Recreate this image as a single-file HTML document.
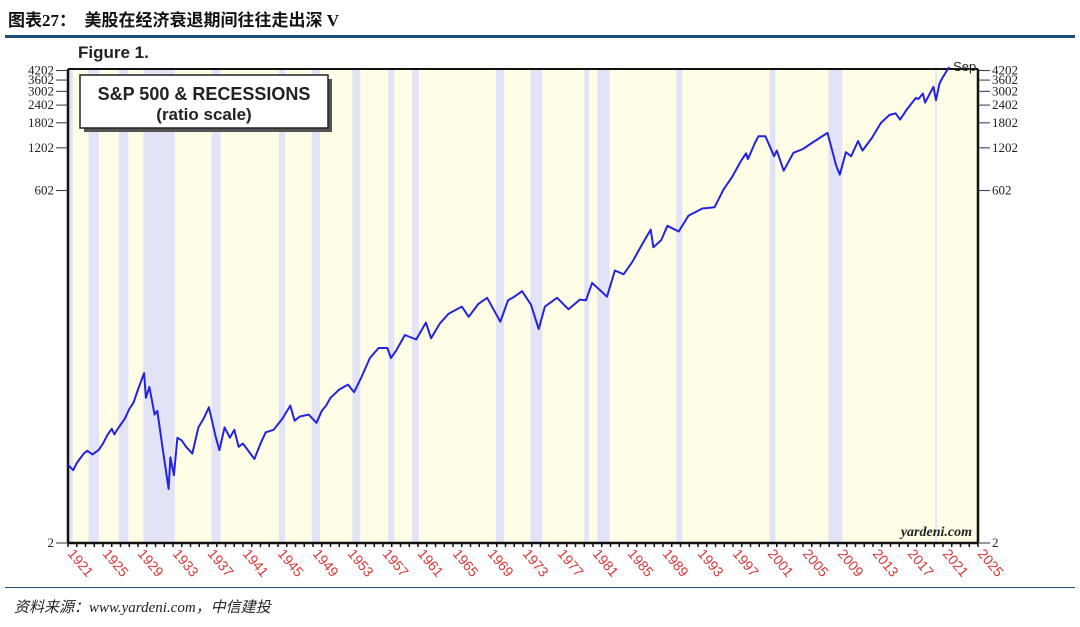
<!DOCTYPE html>
<html><head><meta charset="utf-8">
<style>
body{margin:0;background:#fff;width:1080px;height:627px;overflow:hidden;position:relative;font-family:"Liberation Sans","Noto Sans CJK SC",sans-serif}
#title{position:absolute;left:8px;top:6px;font-size:17px;font-weight:bold;color:#111;font-family:"Liberation Serif","Noto Sans CJK SC",sans-serif}
#topline{position:absolute;left:5px;top:35px;width:1070px;height:3px;background:#1f4e79}
#botline{position:absolute;left:5px;top:587px;width:1070px;height:1px;background:#1f4e79}
#source{position:absolute;left:14px;top:596px;font-size:15px;font-style:italic;color:#222;font-family:"Liberation Serif","Noto Sans CJK SC",serif}
svg{position:absolute;left:0;top:0}
</style></head><body>
<div id="title">图表27：&nbsp;&nbsp;美股在经济衰退期间往往走出深 V</div>
<div id="topline"></div>
<svg id="chart" width="1080" height="627"></svg>
<div id="botline"></div>
<div id="source">资料来源：www.yardeni.com，中信建投</div>
<script>
const recessions=[[1920.0,1921.55],[1923.35,1924.55],[1926.8,1927.9],[1929.6,1933.2],[1937.4,1938.45],[1945.1,1945.8],[1948.85,1949.8],[1953.5,1954.4],[1957.6,1958.3],[1960.3,1961.1],[1969.9,1970.85],[1973.85,1975.2],[1980.0,1980.55],[1981.5,1982.9],[1990.5,1991.2],[2001.2,2001.85],[2007.9,2009.5],[2020.1,2020.3]];
const years=[1921.0,1921.6,1922.0,1922.8,1923.2,1923.8,1924.5,1925.0,1925.5,1926.0,1926.3,1926.8,1927.5,1928.0,1928.5,1929.0,1929.7,1929.9,1930.3,1930.9,1931.2,1931.9,1932.5,1932.7,1933.1,1933.5,1934.0,1934.5,1935.2,1935.9,1936.5,1937.1,1937.9,1938.3,1938.9,1939.5,1940.0,1940.5,1941.0,1942.3,1943.0,1943.6,1944.5,1945.5,1946.4,1946.9,1947.5,1948.5,1949.4,1950.0,1950.5,1951.0,1952.0,1953.0,1953.7,1954.5,1955.5,1956.5,1957.5,1957.9,1958.5,1959.5,1960.8,1961.9,1962.5,1963.5,1964.5,1966.0,1966.8,1967.9,1968.9,1970.4,1971.3,1972.0,1972.9,1973.9,1974.8,1975.5,1976.9,1978.2,1979.5,1980.2,1980.9,1982.6,1983.5,1984.5,1985.5,1986.5,1987.6,1987.9,1988.8,1989.5,1990.8,1991.9,1993.5,1994.9,1995.9,1996.9,1997.9,1998.5,1998.7,1999.5,1999.9,2000.7,2001.7,2002.0,2002.8,2003.9,2005.0,2006.0,2007.8,2008.8,2009.2,2009.9,2010.5,2011.3,2011.8,2012.9,2013.9,2014.9,2015.6,2016.1,2016.9,2017.9,2018.2,2018.7,2018.95,2019.9,2020.2,2020.6,2020.9,2021.7];
const prices=[7.1,6.5,7.3,8.5,8.9,8.4,9.0,10.0,11.5,12.7,11.6,13,15,17.5,19.5,24,31.3,21,25,16,17,8.5,4.8,8,6,11,10.5,9.5,8.5,13,15,18,11,9,13,11,12.5,9.5,10,7.8,10,12,12.5,15,18.5,14.5,15.5,16,14,17,18.5,21,24,26,23,29,40,47,47,40,45,58,54,71,55,70,82,92,78,96,106,72,102,108,118,95,64,92,106,88,103,102,135,108,165,155,190,245,320,240,270,340,310,400,450,460,610,750,970,1100,1000,1300,1450,1450,1050,1150,830,1110,1180,1300,1530,900,780,1120,1050,1340,1150,1420,1800,2050,2100,1900,2250,2700,2650,2900,2500,3230,2600,3400,3700,4450];
const yTicks=[4202,3602,3002,2402,1802,1202,602,2];
const xLabels=[1921,1925,1929,1933,1937,1941,1945,1949,1953,1957,1961,1965,1969,1973,1977,1981,1985,1989,1993,1997,2001,2005,2009,2013,2017,2021,2025];

const NS="http://www.w3.org/2000/svg";
const svg=document.getElementById('chart');
const L=68,R=978,T=69,B=543;
const X=y=>L+(y-1921)*(R-L)/104;
const Y=v=>B-Math.log10(v/2)*142.2;
function mk(tag,attrs,parent){const e=document.createElementNS(NS,tag);for(const k in attrs)e.setAttribute(k,attrs[k]);(parent||svg).appendChild(e);return e;}

let bg=mk('rect',{x:L,y:T,width:R-L,height:B-T,fill:'#fffde6'});


recessions.forEach(r=>{
  const x0=Math.max(L,X(r[0])),x1=X(r[1]);
  const b=mk('rect',{x:x0,y:T,width:x1-x0,height:B-T,fill:'#e3e3f8'});
  
  
});
mk('line',{x1:L,y1:T,x2:R,y2:T,stroke:'#111','stroke-width':2});
let ax=mk('line',{x1:L,y1:B,x2:R,y2:B,stroke:'#111','stroke-width':2.5});


mk('line',{x1:L,y1:T,x2:L,y2:B,stroke:'#111','stroke-width':2.5});
mk('line',{x1:R,y1:T,x2:R,y2:B,stroke:'#111','stroke-width':2.5});
for(let yr=1921;yr<=2025;yr++){mk('line',{x1:X(yr),y1:B,x2:X(yr),y2:B+4,stroke:'#111','stroke-width':1.5});}
yTicks.forEach(v=>{
  const y=Y(v);
  mk('line',{x1:L-12,y1:y,x2:L,y2:y,stroke:'#333','stroke-width':1});
  mk('line',{x1:R,y1:y,x2:R+12,y2:y,stroke:'#333','stroke-width':1});
  let t=mk('text',{x:L-14,y:y+4,'text-anchor':'end','font-size':13,'font-family':'Liberation Serif, serif',fill:'#222'});
  t.textContent=v;
  
  
  let t2=mk('text',{x:R+14,y:y+4,'font-size':13,'font-family':'Liberation Serif, serif',fill:'#222'});
  t2.textContent=v;
  
  
});
xLabels.forEach(yr=>{
  const x=X(yr)-1;
  let t=mk('text',{x:x,y:B+11,'font-size':14,'font-family':'Liberation Sans, sans-serif',fill:'#d83a3a',transform:`rotate(50 ${x} ${B+11})`});
  t.textContent=yr;
  
  
});
let d=years.map((yr,i)=>(i?'L':'M')+X(yr).toFixed(1)+' '+Y(prices[i]).toFixed(1)).join(' ');
let p=mk('path',{d:d,fill:'none',stroke:'#2424e0','stroke-width':2,'stroke-linejoin':'round'});


let sep=mk('text',{x:X(years[years.length-1])+4,y:Y(prices[prices.length-1])+4,'font-size':13,fill:'#222'});
sep.textContent='Sep';


mk('rect',{x:84,y:79,width:248,height:53,fill:'#555'});
let lb=mk('rect',{x:80,y:75,width:248,height:53,fill:'#fff',stroke:'#222','stroke-width':1.5});


let l1=mk('text',{x:204,y:100,'text-anchor':'middle','font-size':18,'font-weight':'bold',fill:'#222'});l1.textContent='S&P 500 & RECESSIONS';
let l2=mk('text',{x:204,y:120,'text-anchor':'middle','font-size':17,'font-weight':'bold',fill:'#222'});l2.textContent='(ratio scale)';
let fg=mk('text',{x:78,y:58,'font-size':17,'font-weight':'bold',fill:'#222'});fg.textContent='Figure 1.';


let yd=mk('text',{x:972,y:536,'text-anchor':'end','font-size':14,'font-style':'italic','font-weight':'bold','font-family':'Liberation Serif, serif',fill:'#222'});yd.textContent='yardeni.com';


</script>
</body></html>
